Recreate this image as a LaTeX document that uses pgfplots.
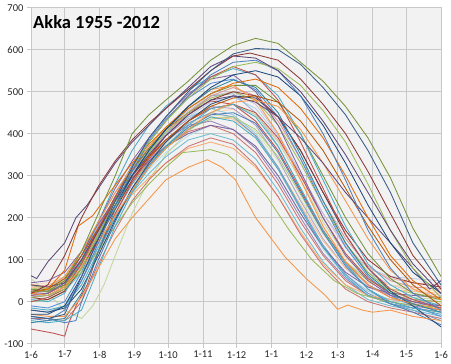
\documentclass[border=0pt]{standalone}
\usepackage{fontspec}
\setmainfont{Carlito}
\usepackage{pgfplots}
\pgfplotsset{compat=1.18}
\definecolor{bgc}{HTML}{F2F2F2}
\definecolor{gridc}{HTML}{C8C8C8}
\definecolor{cc1}{HTML}{77933C}
\definecolor{cc2}{HTML}{385D8A}
\definecolor{cc3}{HTML}{5C4776}
\definecolor{cc4}{HTML}{8C3836}
\definecolor{cc5}{HTML}{4F81BD}
\definecolor{cc6}{HTML}{9BBB59}
\definecolor{cc7}{HTML}{4BACC6}
\definecolor{cc8}{HTML}{E46C0A}
\definecolor{cc9}{HTML}{C0504D}
\definecolor{cc10}{HTML}{8064A2}
\definecolor{cc11}{HTML}{F79646}
\definecolor{cc12}{HTML}{31859C}
\definecolor{cc13}{HTML}{95B3D7}
\definecolor{cc14}{HTML}{D99694}
\definecolor{cc15}{HTML}{C3D69B}
\definecolor{cc16}{HTML}{B3A2C7}
\definecolor{cc17}{HTML}{93CDDD}
\definecolor{cc18}{HTML}{FAC090}
\definecolor{cc19}{HTML}{1F497D}
\definecolor{cc20}{HTML}{953735}
\definecolor{cc21}{HTML}{76923C}
\definecolor{cc22}{HTML}{60497A}
\definecolor{cc23}{HTML}{276A7C}
\definecolor{cc24}{HTML}{B65708}
\definecolor{cc25}{HTML}{729ACA}
\definecolor{cc26}{HTML}{CD7371}
\definecolor{cc27}{HTML}{AFC97A}
\definecolor{cc28}{HTML}{9983B5}
\definecolor{cc29}{HTML}{6FBDD1}
\definecolor{cc30}{HTML}{F9AB6B}
\definecolor{cc31}{HTML}{F79646}
\definecolor{cc32}{HTML}{9BBB59}
\definecolor{cc33}{HTML}{4BACC6}
\definecolor{cc34}{HTML}{C0504D}
\definecolor{cc35}{HTML}{4F81BD}
\definecolor{cc36}{HTML}{2C4D75}
\definecolor{cc37}{HTML}{E6B9B8}
\definecolor{cc38}{HTML}{B9CDE5}
\definecolor{cc39}{HTML}{D7E4BD}
\definecolor{cc40}{HTML}{CCC1DA}
\definecolor{cc41}{HTML}{B7DEE8}
\definecolor{cc42}{HTML}{FCD5B5}
\definecolor{cc43}{HTML}{558ED5}
\definecolor{cc44}{HTML}{C0504D}
\definecolor{cc45}{HTML}{9BBB59}
\definecolor{cc46}{HTML}{8064A2}
\definecolor{cc47}{HTML}{4BACC6}
\definecolor{cc48}{HTML}{F79646}
\begin{document}
\begin{tikzpicture}
\begin{axis}[
 scale only axis, width=410pt, height=336pt,
 xmin=0, xmax=365, ymin=-100, ymax=700,
 xtick={0,30,61,92,122,153,183,214,245,273,304,334,365},
 xticklabels={1-6,1-7,1-8,1-9,1-10,1-11,1-12,1-1,1-2,1-3,1-4,1-5,1-6},
 ytick={-100,0,100,200,300,400,500,600,700},
 yticklabels={-100,0,100,200,300,400,500,600,700},
 grid=major, major grid style={draw=gridc, line width=0.6pt},
 axis background/.style={fill=bgc},
 axis line style={draw=gridc, line width=0.6pt},
 tick style={draw=gridc, line width=0.6pt},
 tick align=outside, major tick length=4pt, tick pos=left,
 tick label style={font=\fontsize{10.5}{12}\selectfont, text=black!85},
 every axis plot/.append style={line width=0.85pt, no marks},
]
% light series
\addplot[cc37] coordinates {(0,35)(15,40)(30,55)(45,100)(60,165)(75,230)(90,290)(105,340)(120,385)(140,430)(160,460)(180,470)(200,445)(220,385)(240,300)(260,210)(280,135)(300,80)(320,55)(340,45)(365,40)};
\addplot[cc38] coordinates {(0,20)(15,15)(30,30)(45,80)(60,150)(75,225)(90,290)(105,345)(120,395)(140,440)(160,475)(180,488)(200,460)(220,395)(240,305)(260,210)(280,130)(300,80)(320,60)(340,55)(365,50)};
\addplot[cc39] coordinates {(0,10)(15,20)(30,40)(45,85)(60,150)(75,220)(90,280)(105,330)(120,375)(140,415)(160,445)(180,440)(200,405)(220,335)(240,245)(260,160)(280,95)(300,55)(320,40)(340,35)(365,30)};
\addplot[cc40] coordinates {(0,25)(15,25)(30,45)(45,95)(60,165)(75,240)(90,305)(105,360)(120,410)(140,455)(160,490)(180,500)(200,470)(220,400)(240,305)(260,210)(280,130)(300,70)(320,40)(340,25)(365,15)};
\addplot[cc41] coordinates {(0,5)(15,10)(30,30)(45,75)(60,140)(75,205)(90,265)(105,315)(120,355)(140,395)(160,420)(180,410)(200,370)(220,300)(240,210)(260,125)(280,60)(300,20)(320,5)(340,0)(365,-5)};
\addplot[cc42] coordinates {(0,40)(15,45)(30,60)(45,110)(60,175)(75,240)(90,295)(105,340)(120,380)(140,420)(160,450)(180,458)(200,425)(220,355)(240,265)(260,175)(280,105)(300,60)(320,40)(340,30)(365,25)};
\addplot[cc13] coordinates {(0,10)(15,20)(30,40)(45,90)(60,160)(75,230)(90,300)(105,350)(120,400)(140,450)(160,490)(180,495)(200,450)(220,370)(240,270)(260,170)(280,90)(300,40)(320,15)(340,5)(365,0)};
\addplot[cc14] coordinates {(0,30)(15,25)(30,50)(45,100)(60,170)(75,240)(90,300)(105,350)(120,400)(140,450)(160,490)(180,510)(200,490)(220,430)(240,340)(260,240)(280,150)(300,85)(320,50)(340,35)(365,30)};
\addplot[cc15] coordinates {(0,55)(15,20)(30,-20)(45,-40)(55,-10)(65,40)(75,110)(90,210)(105,290)(120,350)(140,405)(160,450)(180,470)(200,445)(220,380)(240,290)(260,190)(280,110)(300,55)(320,25)(340,10)(365,5)};
\addplot[cc16] coordinates {(0,20)(15,25)(30,50)(45,110)(60,180)(75,250)(90,310)(105,355)(120,395)(140,435)(160,465)(180,460)(200,420)(220,340)(240,240)(260,150)(280,80)(300,35)(320,15)(340,5)(365,0)};
\addplot[cc17] coordinates {(0,25)(15,30)(30,60)(45,120)(60,190)(75,260)(90,320)(105,365)(120,400)(140,440)(160,460)(180,445)(200,400)(220,320)(240,220)(260,130)(280,65)(300,25)(320,5)(340,-5)(365,-10)};
\addplot[cc18] coordinates {(0,35)(15,30)(30,50)(45,100)(60,160)(75,220)(90,280)(105,330)(120,370)(140,410)(160,440)(180,435)(200,395)(220,320)(240,230)(260,145)(280,80)(300,45)(320,30)(340,25)(365,20)};
\addplot[cc25] coordinates {(0,-20)(15,-25)(30,-10)(45,50)(60,130)(75,210)(90,280)(105,335)(120,380)(140,425)(160,450)(180,440)(200,395)(220,320)(240,225)(260,135)(280,65)(300,20)(320,-5)(340,-20)(365,-45)};
\addplot[cc26] coordinates {(0,10)(15,15)(30,35)(45,90)(60,160)(75,230)(90,285)(105,330)(120,370)(140,405)(160,420)(180,400)(200,355)(220,280)(240,190)(260,110)(280,50)(300,15)(320,-5)(340,-15)(365,-25)};
\addplot[cc27] coordinates {(0,30)(15,35)(30,50)(45,95)(60,160)(75,225)(90,285)(105,330)(120,370)(140,410)(160,435)(180,440)(200,410)(220,345)(240,255)(260,165)(280,95)(300,50)(320,30)(340,20)(365,10)};
\addplot[cc28] coordinates {(0,20)(15,20)(30,45)(45,100)(60,170)(75,240)(90,300)(105,345)(120,385)(140,420)(160,430)(180,410)(200,365)(220,290)(240,200)(260,115)(280,55)(300,15)(320,0)(340,-10)(365,-20)};
\addplot[cc29] coordinates {(0,0)(15,5)(30,25)(45,70)(60,130)(75,200)(90,260)(105,305)(120,345)(140,385)(160,400)(180,385)(200,340)(220,265)(240,175)(260,95)(280,40)(300,5)(320,-10)(340,-20)(365,-35)};
\addplot[cc30] coordinates {(0,15)(15,20)(30,40)(45,85)(60,145)(75,205)(90,255)(105,295)(120,330)(140,365)(160,380)(180,365)(200,320)(220,250)(240,165)(260,90)(280,40)(300,15)(320,5)(340,0)(365,0)};
% mid series
\addplot[cc44] coordinates {(0,15)(15,20)(30,40)(45,100)(60,175)(75,250)(90,315)(105,365)(120,410)(140,450)(160,478)(180,470)(200,430)(220,360)(240,265)(260,170)(280,95)(300,40)(320,10)(340,-5)(365,-20)};
\addplot[cc45] coordinates {(0,0)(15,5)(30,25)(45,80)(60,155)(75,230)(90,300)(105,355)(120,405)(140,450)(160,485)(180,500)(200,480)(220,420)(240,330)(260,230)(280,140)(300,70)(320,25)(340,5)(365,0)};
\addplot[cc46] coordinates {(0,45)(15,50)(30,70)(45,120)(60,185)(75,245)(90,295)(105,335)(120,370)(140,400)(160,420)(180,410)(200,370)(220,300)(240,210)(260,130)(280,70)(300,35)(320,20)(340,15)(365,10)};
\addplot[cc47] coordinates {(0,-15)(15,-20)(30,-10)(45,40)(60,120)(75,200)(90,265)(105,320)(120,365)(140,410)(160,440)(180,430)(200,390)(220,315)(240,220)(260,130)(280,60)(300,15)(320,-5)(340,-15)(365,-25)};
\addplot[cc43] coordinates {(0,-10)(15,-15)(30,0)(45,70)(60,160)(75,250)(90,325)(105,385)(120,435)(140,485)(160,520)(180,530)(200,505)(220,440)(240,340)(260,230)(280,130)(300,60)(320,15)(340,-10)(365,-35)};
\addplot[cc26] coordinates {(0,-40)(15,-40)(30,-45)(45,0)(60,90)(75,170)(90,240)(105,290)(120,330)(140,370)(160,390)(180,375)(200,325)(220,250)(240,160)(260,85)(280,30)(300,0)(320,-15)(340,-25)(365,-40)};
\addplot[cc32] coordinates {(0,40)(15,30)(30,35)(45,70)(60,120)(75,180)(90,235)(105,280)(120,320)(135,355)(160,362)(175,350)(190,315)(210,250)(230,170)(250,100)(270,50)(290,20)(310,5)(330,-5)(350,-10)(365,-15)};
\addplot[cc34] coordinates {(0,-65)(10,-70)(20,-75)(30,-82)(33,-55)(40,-10)(50,40)(60,120)(75,210)(90,285)(105,340)(120,385)(140,430)(160,460)(180,470)(200,450)(220,390)(240,300)(260,200)(280,115)(300,55)(320,20)(340,0)(365,-15)};
\addplot[cc35] coordinates {(0,-35)(15,-40)(30,-50)(40,-45)(45,0)(60,100)(75,190)(90,270)(105,325)(120,370)(140,415)(160,445)(180,450)(200,425)(220,355)(240,260)(260,165)(280,85)(300,30)(320,-5)(340,-25)(365,-55)};
\addplot[cc36] coordinates {(0,-20)(15,-25)(30,-15)(45,30)(60,110)(75,195)(90,270)(105,330)(120,380)(140,430)(160,470)(180,490)(200,485)(220,440)(240,360)(260,260)(280,160)(300,80)(320,25)(340,-10)(365,-60)};
\addplot[cc33] coordinates {(0,-45)(15,-50)(30,-45)(45,-20)(60,80)(75,180)(90,260)(105,320)(120,370)(140,420)(160,460)(180,470)(200,440)(220,370)(240,270)(260,170)(280,90)(300,30)(320,0)(340,-15)(365,-30)};
\addplot[cc20] coordinates {(0,10)(15,5)(30,25)(45,80)(60,150)(75,220)(90,290)(105,345)(120,395)(140,445)(160,480)(180,500)(200,490)(220,440)(240,360)(260,260)(280,170)(300,100)(320,60)(340,45)(365,35)};
\addplot[cc21] coordinates {(0,30)(15,25)(30,40)(45,95)(60,170)(75,245)(90,310)(105,365)(120,410)(140,460)(160,495)(180,515)(200,515)(220,475)(240,400)(260,300)(280,200)(300,115)(320,55)(340,20)(365,5)};
\addplot[cc7] coordinates {(0,5)(15,0)(30,20)(45,100)(60,190)(75,280)(90,360)(105,420)(120,465)(140,505)(160,535)(180,555)(200,540)(220,490)(240,400)(260,290)(280,180)(300,90)(320,40)(340,10)(365,-10)};
\addplot[cc9] coordinates {(0,0)(15,10)(30,30)(45,90)(60,170)(75,250)(90,320)(105,380)(120,430)(140,490)(160,535)(180,560)(200,540)(220,480)(240,380)(260,270)(280,160)(300,80)(320,30)(340,5)(365,-15)};
\addplot[cc10] coordinates {(0,15)(15,20)(30,45)(45,110)(60,190)(75,270)(90,335)(105,390)(120,440)(140,495)(160,530)(180,540)(200,500)(220,420)(240,310)(260,200)(280,110)(300,50)(320,15)(340,0)(365,-10)};
\addplot[cc11] coordinates {(0,40)(15,35)(30,60)(45,120)(60,190)(75,260)(90,320)(105,370)(120,415)(140,465)(160,505)(180,515)(200,480)(220,400)(240,290)(260,180)(280,95)(300,40)(320,10)(340,-5)(365,-20)};
\addplot[cc12] coordinates {(0,-50)(15,-45)(30,-40)(45,20)(60,120)(75,220)(90,300)(105,360)(120,410)(140,465)(160,505)(180,528)(200,510)(220,450)(240,350)(260,240)(280,140)(300,65)(320,20)(340,-5)(365,-25)};
\addplot[cc31] coordinates {(0,-30)(15,-35)(30,-35)(45,10)(60,80)(75,150)(90,200)(105,245)(120,290)(140,320)(157,338)(170,320)(182,290)(200,200)(226,107)(245,55)(262,15)(273,-18)(282,-8)(295,-20)(304,-25)(320,-20)(340,-35)(365,-45)};
% late / high series
\addplot[cc48] coordinates {(0,20)(15,15)(30,35)(45,80)(60,140)(75,205)(90,265)(105,320)(120,365)(140,410)(160,450)(180,475)(200,480)(220,465)(240,410)(260,330)(280,240)(300,150)(320,75)(340,30)(365,5)};
\addplot[cc24] coordinates {(0,25)(15,30)(30,55)(45,110)(60,175)(75,240)(90,300)(105,345)(120,385)(140,430)(160,465)(180,485)(200,490)(220,475)(240,430)(260,360)(280,270)(300,180)(320,100)(340,40)(365,-10)};
\addplot[cc22] coordinates {(0,40)(15,35)(30,45)(45,100)(60,170)(75,240)(90,300)(105,350)(120,395)(140,445)(160,480)(180,490)(200,475)(220,440)(240,390)(260,330)(280,260)(300,200)(320,140)(340,80)(355,30)(365,50)};
\addplot[cc8] coordinates {(0,20)(15,30)(30,75)(42,180)(55,205)(70,260)(90,330)(105,375)(120,415)(140,460)(160,495)(180,520)(200,530)(220,510)(240,460)(260,390)(280,300)(300,200)(320,110)(340,50)(365,5)};
\addplot[cc19] coordinates {(0,-30)(15,-30)(30,-10)(45,60)(60,150)(75,230)(90,300)(105,360)(120,410)(140,465)(160,510)(180,540)(200,550)(220,535)(240,490)(260,420)(280,330)(300,230)(320,140)(340,70)(365,20)};
\addplot[cc5] coordinates {(0,-40)(15,-45)(30,-20)(45,50)(60,140)(75,230)(90,310)(105,380)(120,430)(140,490)(160,540)(180,570)(200,575)(220,550)(240,490)(260,400)(280,290)(300,170)(320,80)(340,20)(365,-20)};
\addplot[cc6] coordinates {(0,10)(15,15)(30,30)(45,80)(60,160)(75,240)(90,320)(105,380)(120,430)(140,485)(160,530)(180,560)(200,570)(220,555)(240,515)(260,455)(280,380)(300,280)(320,170)(340,80)(365,10)};
\addplot[cc3] coordinates {(0,62)(5,55)(15,95)(30,140)(40,200)(50,230)(60,270)(75,330)(90,380)(105,420)(120,460)(140,510)(160,560)(180,585)(200,580)(220,550)(240,500)(260,430)(280,350)(300,260)(320,170)(340,90)(365,20)};
\addplot[cc4] coordinates {(0,20)(15,40)(30,110)(45,200)(60,275)(75,335)(90,385)(105,425)(120,460)(140,505)(160,550)(180,585)(195,592)(220,575)(240,530)(260,470)(280,400)(300,310)(320,210)(340,110)(365,30)};
\addplot[cc2] coordinates {(0,-35)(15,-40)(30,-30)(45,60)(60,150)(75,240)(90,320)(105,390)(120,440)(140,500)(160,550)(180,590)(200,603)(220,600)(240,565)(260,510)(280,445)(300,360)(320,260)(340,140)(365,40)};
\addplot[cc1] coordinates {(0,25)(15,25)(30,50)(45,120)(60,210)(75,300)(90,400)(105,445)(120,480)(140,525)(160,575)(180,610)(200,627)(220,615)(240,570)(260,525)(280,465)(300,390)(320,295)(340,175)(365,60)};
\coordinate (nw) at (rel axis cs:0,1);
\coordinate (sw) at (rel axis cs:0,0);
\coordinate (ne) at (rel axis cs:1,1);
\end{axis}
\node[anchor=base west, font=\bfseries\fontsize{18.5}{20}\selectfont, inner sep=0pt] at ([shift={(2pt,-20.5pt)}]nw) {Akka 1955 -2012};
\pgfresetboundingbox
\path ([shift={(-31pt,-20pt)}]sw) rectangle ([shift={(10pt,7.7pt)}]ne);
\end{tikzpicture}
\end{document}
